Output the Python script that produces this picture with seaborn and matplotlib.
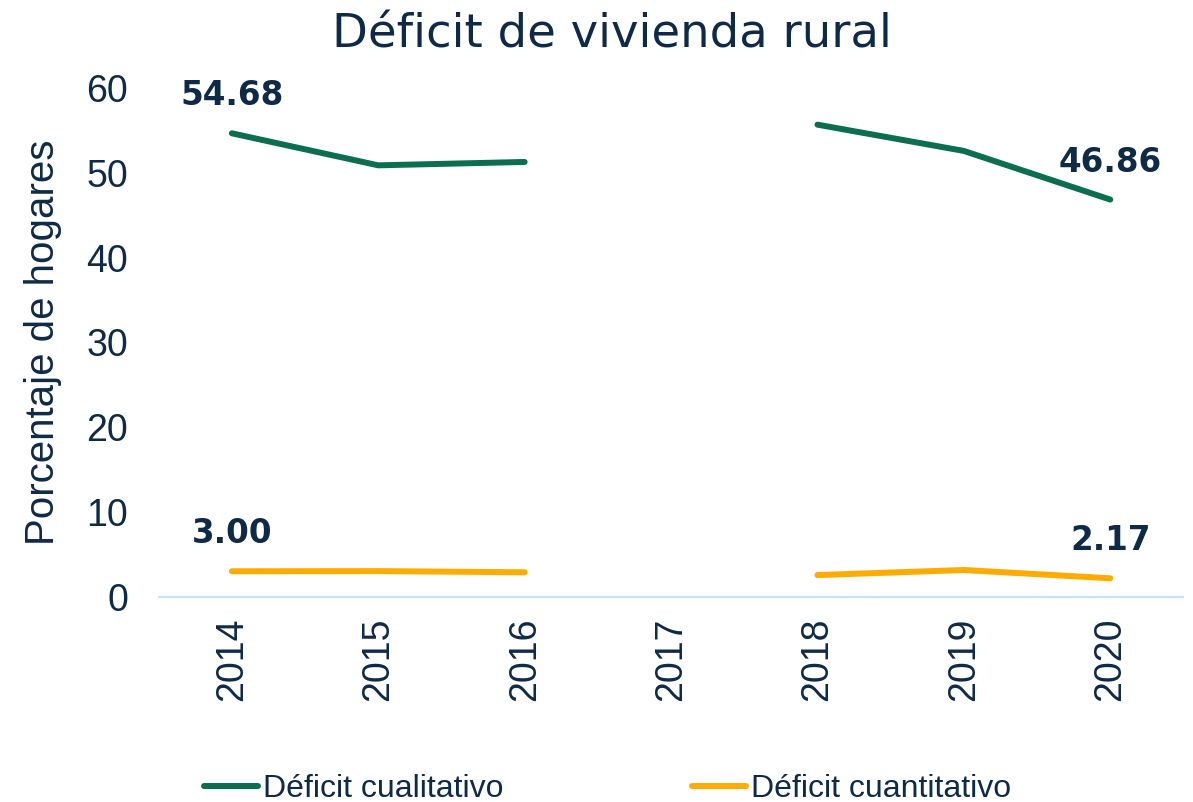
import pandas as pd
import numpy as np
import matplotlib
matplotlib.use("Agg")
import matplotlib.pyplot as plt
import seaborn as sns

# Datos (2017 sin dato)
anios = [2014, 2015, 2016, 2017, 2018, 2019, 2020]
cualitativo = [54.68, 50.9, 51.3, np.nan, 55.7, 52.6, 46.86]
cuantitativo = [3.00, 3.02, 2.88, np.nan, 2.55, 3.15, 2.17]
tramo = [1, 1, 1, 1, 2, 2, 2]
series = ["Déficit cualitativo", "Déficit cuantitativo"]

VERDE = "#0a6e4f"
NARANJA = "#ffab00"
TEXTO = "#0f2a47"
EJE = "#c6e4f7"

df = pd.DataFrame({
    "anio": anios * 2,
    "valor": cualitativo + cuantitativo,
    "serie": [series[0]] * len(anios) + [series[1]] * len(anios),
    "tramo": tramo * 2,
}).dropna()

sns.set_style("white")
plt.rcParams["font.family"] = ["Liberation Sans", "DejaVu Sans"]

fig = plt.figure(figsize=(11.93, 8.02), dpi=100)
ax = fig.add_axes([0.133, 0.256, 0.859, 0.634])

sns.lineplot(data=df, x="anio", y="valor", hue="serie", units="tramo",
             estimator=None, palette=[VERDE, NARANJA], linewidth=4.3,
             ax=ax, legend=False)

# Etiquetas de primer y último valor
for vals in [cualitativo, cuantitativo]:
    for i in [0, len(anios) - 1]:
        ax.annotate(f"{vals[i]:.2f}", (anios[i], vals[i]), xytext=(0, 27),
                    textcoords="offset points", ha="center", va="center",
                    fontsize=23.5, fontweight="bold", color=TEXTO,
                    family="DejaVu Sans", annotation_clip=False)

ax.set_xlim(2013.5, 2020.5)
ax.set_ylim(0, 60)
ax.set_xticks(anios)
ax.set_xticklabels([str(a) for a in anios], rotation=90)
ax.set_yticks(range(0, 61, 10))
ax.tick_params(axis="both", length=0, labelsize=27, labelcolor=TEXTO)
ax.tick_params(axis="x", pad=15)
ax.tick_params(axis="y", pad=22)
ax.set_xlabel("")
ax.set_ylabel("Porcentaje de hogares", fontsize=29, color=TEXTO)
ax.yaxis.set_label_coords(-0.094, 0.5)

for s in ["top", "right", "left"]:
    ax.spines[s].set_visible(False)
ax.spines["bottom"].set_color(EJE)
ax.spines["bottom"].set_linewidth(1.5)

fig.text(0.513, 0.941, "Déficit de vivienda rural", ha="center",
         va="baseline", fontsize=33.5, color=TEXTO, family="DejaVu Sans")

handles = [plt.Line2D([], [], color=VERDE, lw=4.3),
           plt.Line2D([], [], color=NARANJA, lw=4.3)]
fig.legend(handles, series, loc="lower left", bbox_to_anchor=(0.147, -0.038),
           ncol=2, frameon=False, fontsize=23, handlelength=1.7,
           handletextpad=0.15, columnspacing=5.9, labelcolor=TEXTO)

fig.savefig("out.png", dpi=100)
